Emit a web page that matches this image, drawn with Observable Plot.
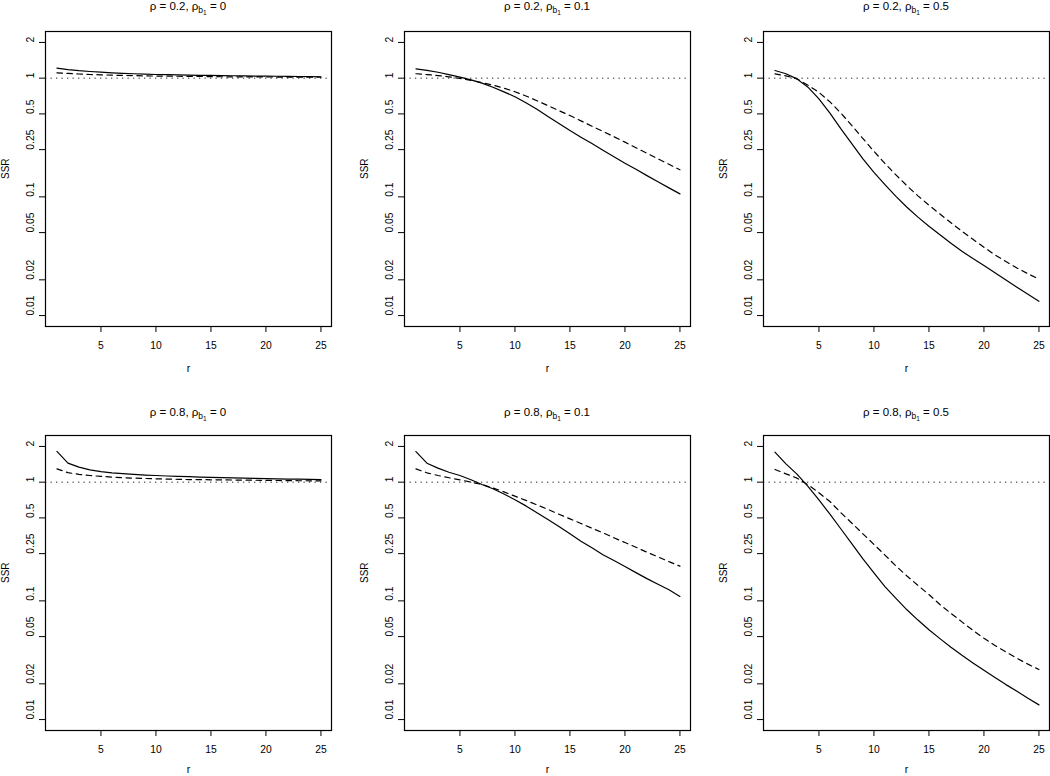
<!DOCTYPE html>
<html><head><meta charset="utf-8">
<script src="https://cdn.jsdelivr.net/npm/d3@7"></script>
<script src="https://cdn.jsdelivr.net/npm/@observablehq/plot@0.6"></script>
<style>
html,body{margin:0;padding:0;background:#fff;}
#chart{position:relative;width:1050px;height:776px;overflow:hidden;background:#fff;}
</style></head><body><div id="chart"></div>
<script>
// ---- data ----
const rValues = [1,2,3,4,5,6,7,8,9,10,11,12,13,14,15,16,17,18,19,20,21,22,23,24,25];
const rhoLabels = ["0.2", "0.8"];
const rhoB1Labels = ["0", "0.1", "0.5"];
const xTicks = [5, 10, 15, 20, 25];
const yTicks = [0.01, 0.02, 0.05, 0.1, 0.25, 0.5, 1, 2];
const yTickLabels = ["0.01", "0.02", "0.05", "0.1", "0.25", "0.5", "1", "2"];

const ssr_rho02_b0_solid  = [1.213,1.180,1.156,1.138,1.122,1.109,1.099,1.089,1.081,1.074,1.069,1.064,1.060,1.057,1.054,1.051,1.048,1.045,1.042,1.040,1.038,1.035,1.033,1.030,1.028];
const ssr_rho02_b0_dashed = [1.109,1.096,1.084,1.074,1.067,1.059,1.054,1.050,1.045,1.042,1.040,1.038,1.035,1.033,1.030,1.028,1.026,1.025,1.024,1.023,1.022,1.021,1.020,1.019,1.018];

const ssr_rho02_b01_solid  = [1.199,1.164,1.122,1.072,1.019,0.966,0.908,0.839,0.767,0.698,0.621,0.547,0.476,0.415,0.362,0.318,0.281,0.247,0.218,0.192,0.171,0.151,0.134,0.119,0.106];
const ssr_rho02_b01_dashed = [1.089,1.072,1.052,1.026,0.995,0.959,0.918,0.873,0.824,0.769,0.708,0.646,0.587,0.533,0.484,0.437,0.394,0.356,0.321,0.289,0.259,0.233,0.209,0.188,0.169];

const ssr_rho02_b05_solid  = [1.161,1.089,0.986,0.839,0.670,0.507,0.374,0.280,0.209,0.161,0.127,0.101,0.0818,0.0675,0.0566,0.0479,0.0407,0.0348,0.0302,0.0264,0.0229,0.0199,0.0173,0.0151,0.0132];
const ssr_rho02_b05_dashed = [1.088,1.046,0.987,0.871,0.759,0.631,0.507,0.398,0.310,0.242,0.191,0.153,0.124,0.102,0.0851,0.0716,0.0605,0.0513,0.0439,0.0376,0.0325,0.0285,0.0252,0.0225,0.0203];

const ssr_rho08_b0_solid  = [1.816,1.445,1.337,1.271,1.227,1.199,1.178,1.161,1.148,1.138,1.127,1.119,1.112,1.104,1.096,1.091,1.086,1.081,1.076,1.072,1.067,1.062,1.059,1.054,1.052];
const ssr_rho08_b0_dashed = [1.294,1.202,1.164,1.138,1.119,1.104,1.091,1.081,1.074,1.067,1.062,1.057,1.052,1.050,1.047,1.045,1.042,1.040,1.038,1.035,1.033,1.030,1.028,1.027,1.026];

const ssr_rho08_b01_solid  = [1.811,1.445,1.312,1.213,1.138,1.047,0.955,0.879,0.794,0.711,0.631,0.552,0.484,0.423,0.367,0.318,0.280,0.245,0.219,0.195,0.173,0.154,0.138,0.124,0.109];
const ssr_rho08_b01_dashed = [1.294,1.199,1.138,1.089,1.047,1.000,0.955,0.895,0.828,0.762,0.702,0.644,0.589,0.537,0.491,0.449,0.409,0.374,0.340,0.310,0.283,0.257,0.235,0.214,0.196];

const ssr_rho08_b05_solid  = [1.791,1.426,1.169,0.923,0.708,0.537,0.403,0.302,0.226,0.172,0.132,0.105,0.0841,0.0689,0.0571,0.0481,0.0407,0.0348,0.0300,0.0260,0.0226,0.0197,0.0173,0.0151,0.0133];
const ssr_rho08_b05_dashed = [1.279,1.175,1.081,0.951,0.813,0.687,0.552,0.451,0.367,0.299,0.243,0.197,0.162,0.135,0.113,0.0931,0.0785,0.0665,0.0565,0.0484,0.0421,0.0371,0.0328,0.0293,0.0264];

const panels = [
  {row: 0, col: 0, rho: rhoLabels[0], rhoB: rhoB1Labels[0], solid: ssr_rho02_b0_solid,  dashed: ssr_rho02_b0_dashed},
  {row: 0, col: 1, rho: rhoLabels[0], rhoB: rhoB1Labels[1], solid: ssr_rho02_b01_solid, dashed: ssr_rho02_b01_dashed},
  {row: 0, col: 2, rho: rhoLabels[0], rhoB: rhoB1Labels[2], solid: ssr_rho02_b05_solid, dashed: ssr_rho02_b05_dashed},
  {row: 1, col: 0, rho: rhoLabels[1], rhoB: rhoB1Labels[0], solid: ssr_rho08_b0_solid,  dashed: ssr_rho08_b0_dashed},
  {row: 1, col: 1, rho: rhoLabels[1], rhoB: rhoB1Labels[1], solid: ssr_rho08_b01_solid, dashed: ssr_rho08_b01_dashed},
  {row: 1, col: 2, rho: rhoLabels[1], rhoB: rhoB1Labels[2], solid: ssr_rho08_b05_solid, dashed: ssr_rho08_b05_dashed}
];

// ---- layout ----
const ML = 45, MR = 3, MT = 31, MB = 50;
const BW = 286, BH = 295;
const W = ML + BW + MR, H = MT + BH + MB;
const TICK = 6;
const boxLeft = [45, 404.3, 763.3];
const boxTop = [31.1, 435.2];
const titleBaseline = [10.5, 416.5];
const xLabelOffset = [45, 42.5];
const font = "'Liberation Sans', Arial, Helvetica, sans-serif";

const chart = document.getElementById("chart");
const yTickData = yTicks.map((v, i) => ({v, label: yTickLabels[i]}));

for (const p of panels) {
  const solidData = rValues.map((r, i) => ({r, ssr: p.solid[i]}));
  const dashedData = rValues.map((r, i) => ({r, ssr: p.dashed[i]}));
  const svg = Plot.plot({
    width: W, height: H,
    marginLeft: ML, marginRight: MR, marginTop: MT, marginBottom: MB,
    style: {fontFamily: font, fontSize: "10.3px", color: "black", background: "transparent", overflow: "visible"},
    x: {domain: [-0.04, 25.96]},
    y: {type: "log", domain: [0.00809, 2.472], axis: null},
    marks: [
      Plot.ruleY([1], {stroke: "black", strokeWidth: 1, strokeDasharray: "1.3,4.2", strokeOpacity: 0.85}),
      Plot.line(solidData, {x: "r", y: "ssr", stroke: "black", strokeWidth: 1.2}),
      Plot.line(dashedData, {x: "r", y: "ssr", stroke: "black", strokeWidth: 1.2, strokeDasharray: "5.5,4.5"}),
      Plot.frame({stroke: "black", strokeWidth: 1.2}),
      Plot.axisX(xTicks, {tickSize: TICK, tickPadding: 9, tickFormat: d => String(d), label: null}),
      Plot.tickY(yTickData, {y: "v", stroke: "black", strokeWidth: 1, insetLeft: -TICK, insetRight: BW}),
      Plot.text(yTickData, {y: "v", text: "label", frameAnchor: "left", dx: -12, rotate: -90, lineAnchor: "bottom", fontSize: 10.3}),
      Plot.text(["SSR"], {frameAnchor: "left", dx: -36.6, rotate: -90, lineAnchor: "bottom", fontSize: 10}),
      Plot.text(["r"], {frameAnchor: "bottom", dy: xLabelOffset[p.row], lineAnchor: "bottom", fontSize: 10.5})
    ]
  });
  const left = boxLeft[p.col] - ML;
  const top = boxTop[p.row] - MT;
  svg.style.position = "absolute";
  svg.style.left = left + "px";
  svg.style.top = top + "px";
  svg.style.maxWidth = "none";

  const t = d3.select(svg).append("text")
    .attr("x", ML + BW / 2)
    .attr("y", titleBaseline[p.row] - top)
    .attr("text-anchor", "middle")
    .attr("font-size", 11.5)
    .attr("fill", "black")
    .style("white-space", "pre");
  t.append("tspan").text(`\u03C1 = ${p.rho}, \u03C1`);
  t.append("tspan").attr("dy", 2.5).attr("font-size", 8.5).text("b");
  t.append("tspan").attr("dy", 1.7).attr("font-size", 6.5).text("1");
  t.append("tspan").attr("dy", -4.2).text(` = ${p.rhoB}`);

  chart.appendChild(svg);
}
</script>
</body></html>
